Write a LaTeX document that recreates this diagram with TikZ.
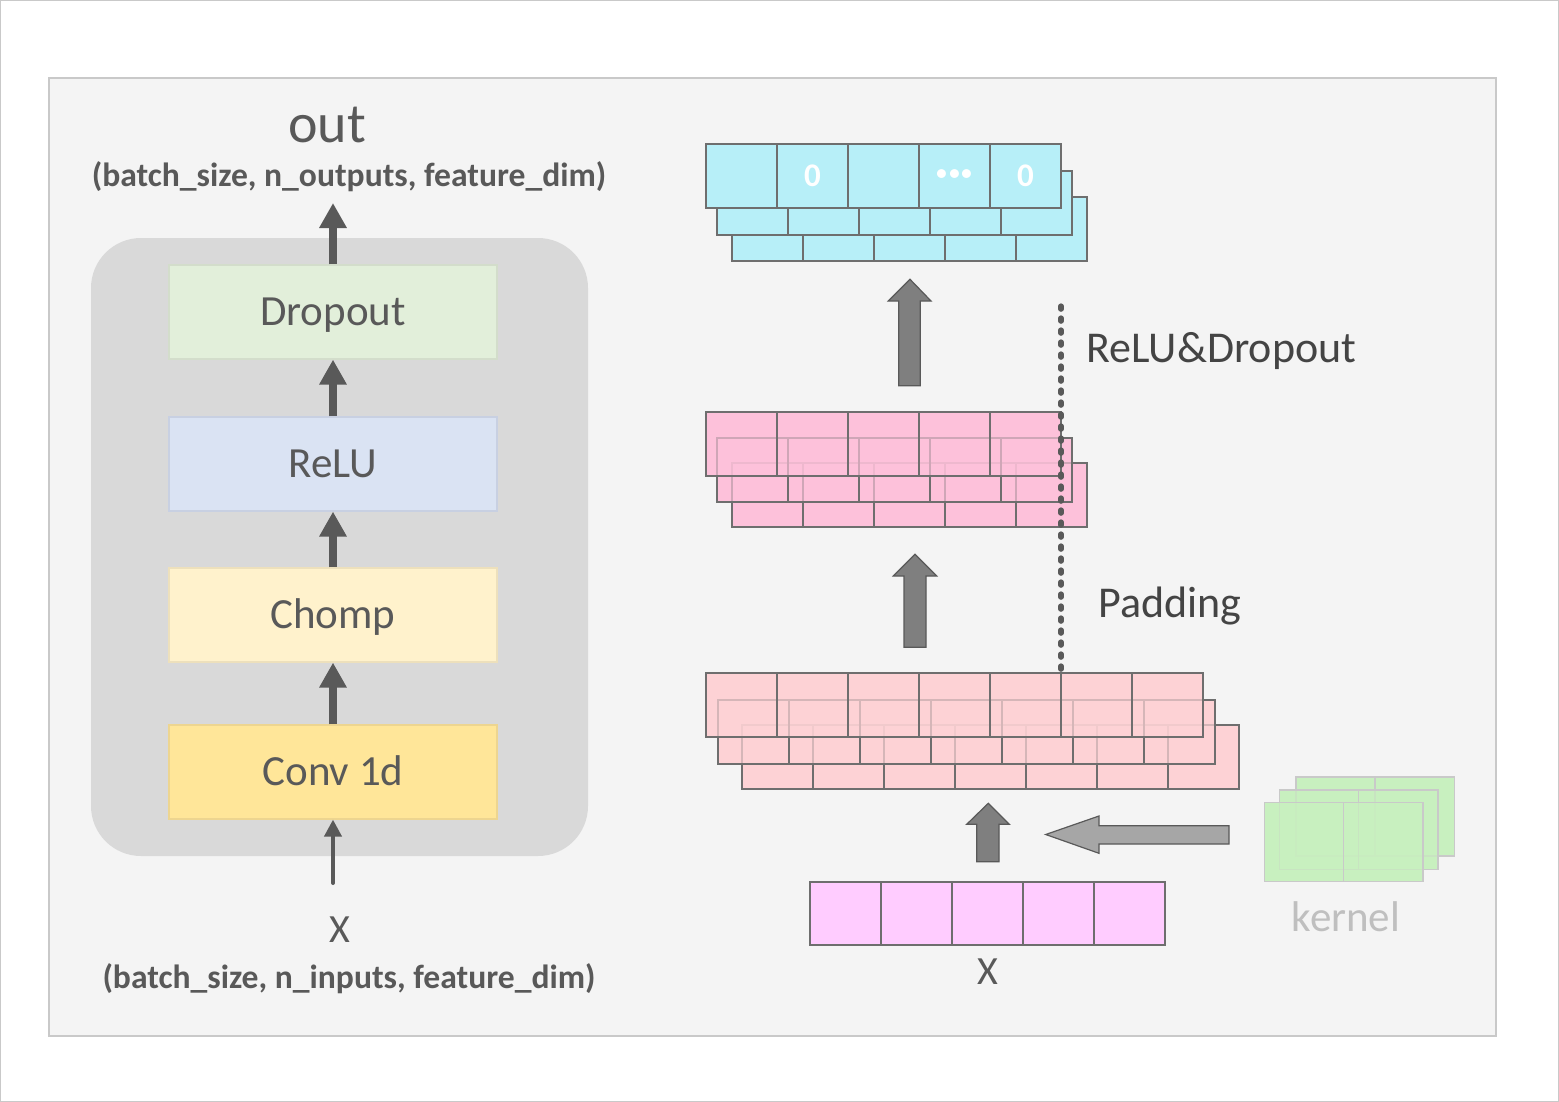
\documentclass[tikz,border=0pt]{standalone}
\usepackage{fontspec}
\setmainfont{Carlito}
\usetikzlibrary{arrows.meta}
\definecolor{txt}{HTML}{595959}
\definecolor{txtd}{HTML}{444444}
\definecolor{cellline}{HTML}{6E6E6E}
\definecolor{cyanc}{HTML}{B7EFF8}
\definecolor{pinkc}{HTML}{FDC1DA}
\definecolor{lpinkc}{HTML}{FDD2D5}
\definecolor{magc}{HTML}{FFCCFF}
\definecolor{kerc}{HTML}{C8F0BF}
\definecolor{kerl}{HTML}{C9C9C9}
\definecolor{panel}{HTML}{F4F4F4}
\definecolor{rpanel}{HTML}{D9D9D9}
\definecolor{dropc}{HTML}{E2EFDA}
\definecolor{dropl}{HTML}{D3DDCB}
\definecolor{reluc}{HTML}{DAE3F3}
\definecolor{relul}{HTML}{C8D0E2}
\definecolor{chompc}{HTML}{FFF2CC}
\definecolor{chompl}{HTML}{EDE0BC}
\definecolor{convc}{HTML}{FFE699}
\definecolor{convl}{HTML}{EDD590}
\definecolor{uparr}{HTML}{7F7F7F}
\definecolor{lfarr}{HTML}{A6A6A6}
\definecolor{kertxt}{HTML}{BFBFBF}
\newcommand{\cellgrid}[6]{% x y n w h style
  \foreach \ci in {1,...,#3}{\draw[#6] ({#1+(\ci-1)*#4},#2) rectangle ({#1+\ci*#4},{#2+#5});}}
\newcommand{\cellfill}[6]{\fill[#6] (#1,#2) rectangle ({#1+#3*#4},{#2+#5});}
\tikzset{
  lbox/.style={minimum width=164pt,minimum height=47pt,inner sep=0pt,line width=0.6pt,
    text height=13.85pt,text depth=0pt,font=\fontsize{21.5pt}{24pt}\selectfont,text=txt},
  lbl/.style={inner sep=0pt,text depth=0pt,text height=#1},
  larrow/.style={draw=txt,line width=4pt,-{Triangle[length=12.5pt,width=13pt]}},
  sarrow/.style={draw=txt,line width=2pt,-{Triangle[length=8.5pt,width=8.5pt]}},
  blkarrow/.style={fill=#1,draw=txt,line width=0.6pt,line join=miter},
  gridline/.style={draw=cellline,line width=1pt},
  celltxt/.style={lbl=10.6pt,text=white,font=\bfseries\fontsize{16.5pt}{18pt}\selectfont},
  dimtxt/.style={lbl=10.8pt,text=txt,font=\bfseries\fontsize{16.8pt}{19pt}\selectfont},
  bigtxt/.style={lbl=14.2pt,text=txtd,font=\fontsize{22pt}{25pt}\selectfont},
}
\begin{document}
\begin{tikzpicture}[x=0.5pt,y=-0.5pt]
\useasboundingbox (0,0) rectangle (1559,1102);
\draw[draw=kerl,line width=0.8pt,fill=white] (0.5,0.5) rectangle (1558.5,1101.5);
\draw[draw=kerl,line width=0.6pt,fill=panel] (49,78) rectangle (1496,1036);
% ---------------- left panel ----------------
\fill[rpanel,rounded corners=25pt] (91,238) rectangle (588,856);
\node[lbox,fill=dropc,draw=dropl] (drop) at (333,312) {Dropout};
\node[lbox,fill=reluc,draw=relul] (relu) at (333,464) {ReLU};
\node[lbox,fill=chompc,draw=chompl] (chomp) at (333,615) {Chomp};
\node[lbox,fill=convc,draw=convl] (conv) at (333,772) {Conv 1d};
\node[lbl=18pt,text=txt,font=\fontsize{28pt}{32pt}\selectfont] (outl) at (327,124) {out};
\node[dimtxt] (outdim) at (349,176) {(batch\_size, n\_outputs, feature\_dim)};
\node[lbl=12.9pt,text=txt,font=\fontsize{20pt}{22pt}\selectfont] (xl) at (340,930) {X};
\node[dimtxt] (indim) at (349,978) {(batch\_size, n\_inputs, feature\_dim)};
\coordinate (otip) at (333,203);
\coordinate (xtail) at (333,883);
\draw[larrow] (drop.north) -- (otip);
\draw[larrow] (relu.north) -- (drop.south);
\draw[larrow] (chomp.north) -- (relu.south);
\draw[larrow] (conv.north) -- (chomp.south);
\draw[sarrow,line cap=round] (xtail) -- (conv.south);
% ---------------- right: cyan output ----------------
\cellfill{731.7}{196.7}{5}{71}{64}{cyanc}
\cellgrid{731.7}{196.7}{5}{71}{64}{gridline}
\cellfill{717}{170.7}{5}{71}{64}{cyanc}
\cellgrid{717}{170.7}{5}{71}{64}{gridline}
\cellfill{706}{144.3}{5}{71}{64}{cyanc}
\cellgrid{706}{144.3}{5}{71}{64}{gridline}
\node[celltxt] (z1) at (812.5,176.3) {0};
\node[lbl=6pt,text=white,font=\bfseries\fontsize{24pt}{26pt}\selectfont] (dots) at (954.5,182) {···};
\node[celltxt] (z2) at (1025.5,176.3) {0};
% ---------------- right: pink middle ----------------
\cellfill{731.7}{463.3}{5}{71}{64}{pinkc}
\cellfill{717}{437.7}{5}{71}{64}{pinkc}
\cellfill{706}{411.7}{5}{71}{64}{pinkc}
\cellgrid{731.7}{463.3}{5}{71}{64}{gridline}
\cellfill{717}{437.7}{5}{71}{64}{pinkc,opacity=0.68}
\cellgrid{717}{437.7}{5}{71}{64}{gridline}
\cellfill{706}{411.7}{5}{71}{64}{pinkc,opacity=0.68}
\cellgrid{706}{411.7}{5}{71}{64}{gridline}
% ---------------- right: light pink ----------------
\cellfill{741.8}{725}{7}{71}{64}{lpinkc}
\cellfill{717.5}{699.5}{7}{71}{64}{lpinkc}
\cellfill{706}{673}{7}{71}{64}{lpinkc}
\cellgrid{741.8}{725}{7}{71}{64}{gridline}
\cellfill{717.5}{699.5}{7}{71}{64}{lpinkc,opacity=0.72}
\cellgrid{717.5}{699.5}{7}{71}{64}{gridline}
\cellfill{706}{673}{7}{71}{64}{lpinkc,opacity=0.72}
\cellgrid{706}{673}{7}{71}{64}{gridline}
% ---------------- right: input X ----------------
\cellfill{810}{882}{5}{71}{63}{magc}
\cellgrid{810}{882}{5}{71}{63}{gridline}
\node[lbl=12.9pt,text=txt,font=\fontsize{20pt}{22pt}\selectfont] (xr) at (988,972) {X};
% ---------------- kernel ----------------
\cellfill{1295.7}{776.7}{2}{79.3}{79.3}{kerc}
\cellfill{1279.3}{790}{2}{79.3}{79.3}{kerc}
\cellfill{1264.3}{802.3}{2}{79.3}{79.3}{kerc}
\cellgrid{1295.7}{776.7}{2}{79.3}{79.3}{draw=kerl,line width=0.8pt}
\cellfill{1279.3}{790}{2}{79.3}{79.3}{kerc,opacity=0.7}
\cellgrid{1279.3}{790}{2}{79.3}{79.3}{draw=kerl,line width=0.8pt}
\cellfill{1264.3}{802.3}{2}{79.3}{79.3}{kerc,opacity=0.7}
\cellgrid{1264.3}{802.3}{2}{79.3}{79.3}{draw=kerl,line width=0.8pt}
\node[lbl=13.85pt,text=kertxt,font=\fontsize{21.5pt}{24pt}\selectfont] (kern) at (1346,918) {kernel};
% ---------------- block arrows ----------------
\draw[blkarrow=uparr] (910,279.3) -- (931,301) -- (920.3,301) -- (920.3,385.7) -- (898.7,385.7) -- (898.7,301) -- (888.3,301) -- cycle;
\draw[blkarrow=uparr] (915,554.3) -- (936.7,576) -- (926,576) -- (926,647.3) -- (904,647.3) -- (904,576) -- (893.3,576) -- cycle;
\draw[blkarrow=uparr] (988.3,803.3) -- (1009.3,824.3) -- (999,824.3) -- (999,861.7) -- (976.7,861.7) -- (976.7,824.3) -- (966.7,824.3) -- cycle;
\draw[blkarrow=lfarr] (1045.7,834.5) -- (1099,816) -- (1099,825.7) -- (1229,825.7) -- (1229,844) -- (1099,844) -- (1099,853.3) -- cycle;
% ---------------- dotted line and labels ----------------
\draw[draw=txt,line width=2.6pt,line cap=round,dash pattern=on 1.6pt off 4.4pt] (1061,306) -- (1061,672);
\node[bigtxt,anchor=west] (reludrop) at (1086,348) {ReLU\&Dropout};
\node[bigtxt,anchor=west] (padl) at (1098,603) {Padding};
\end{tikzpicture}
\end{document}
